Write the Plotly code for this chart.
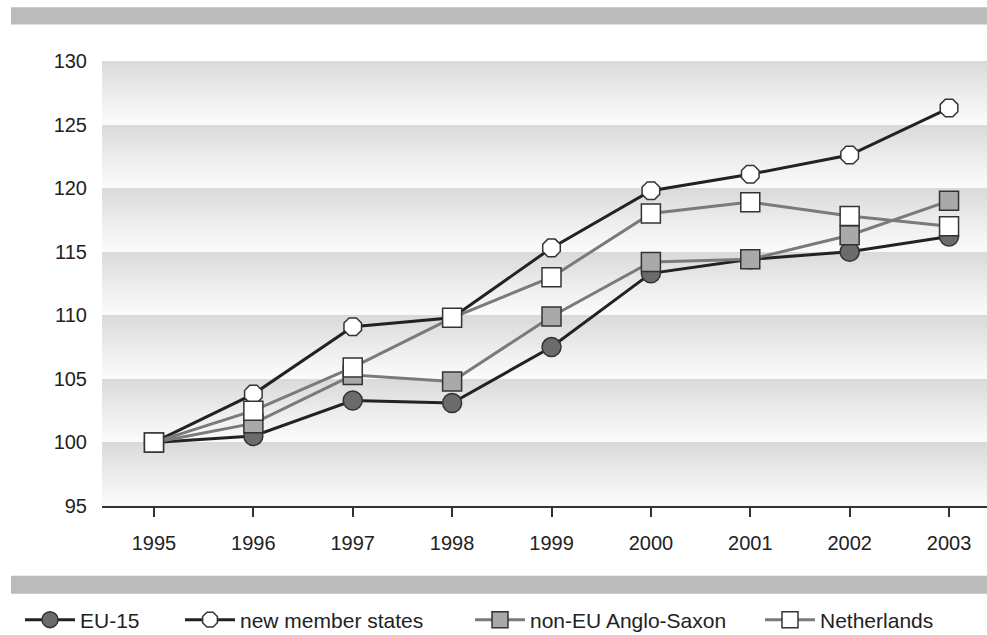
import numpy as np
import plotly.graph_objects as go

years = [1995, 1996, 1997, 1998, 1999, 2000, 2001, 2002, 2003]
eu15 = [100, 100.5, 103.3, 103.1, 107.5, 113.3, 114.4, 115.0, 116.2]
new_members = [100, 103.8, 109.1, 109.8, 115.3, 119.8, 121.1, 122.6, 126.3]
non_eu_anglo = [100, 101.5, 105.3, 104.8, 109.9, 114.2, 114.4, 116.3, 119.0]
netherlands = [100, 102.5, 105.9, 109.8, 113.0, 118.0, 118.9, 117.8, 117.0]

y_ticks = [95, 100, 105, 110, 115, 120, 125, 130]

FONT = "Liberation Sans, Arial, sans-serif"
W, H = 987, 635
L, R, T, B = 102, 0, 61, 129
PW, PH = W - L - R, H - T - B

def px_x(px):
    return (px - L) / PW

def px_y(py):
    return (H - B - py) / PH

fig = go.Figure()

# gradient background bands (darker at top of each 5-unit band)
edges = np.arange(95, 130.001, 0.25)
mids = (edges[:-1] + edges[1:]) / 2
frac = ((mids - 95) % 5) / 5
z = [[f] for f in frac]
fig.add_trace(go.Heatmap(
    x=[1994.3, 2003.6], y=edges, z=z, zmin=0, zmax=1,
    colorscale=[[0, "#fbfbfb"], [0.5, "#ececec"], [1, "#d9d9d9"]],
    showscale=False, hoverinfo="skip", showlegend=False, zsmooth=False,
))

series = [
    ("EU-15", eu15, "#222222", "circle", "#6b6b6b", "legend"),
    ("new member states", new_members, "#222222", "octagon", "#ffffff", "legend2"),
    ("non-EU Anglo-Saxon", non_eu_anglo, "#7a7a7a", "square", "#a9a9a9", "legend3"),
    ("Netherlands", netherlands, "#7a7a7a", "square", "#ffffff", "legend4"),
]
for name, vals, lc, sym, fc, lg in series:
    fig.add_trace(go.Scatter(
        x=years, y=vals, name=name, mode="lines+markers",
        line=dict(color=lc, width=3),
        marker=dict(symbol=sym, size=19, color=fc, line=dict(color="#333333", width=1.5)),
        legend=lg, showlegend=True,
    ))

legend_common = dict(
    orientation="h", yanchor="middle", y=px_y(620), xanchor="left",
    font=dict(family=FONT, size=21, color="#222222"), bgcolor="rgba(0,0,0,0)",
    itemwidth=50, visible=True,
)
text_px = [82, 242, 532, 822]
legends = {}
for i, tp in enumerate(text_px):
    key = "legend" if i == 0 else f"legend{i+1}"
    legends[key] = dict(legend_common, x=px_x(tp - 62))

fig.update_layout(
    width=W, height=H,
    showlegend=True,
    margin=dict(l=L, r=R, t=T, b=B, autoexpand=False),
    paper_bgcolor="white", plot_bgcolor="white",
    font=dict(family=FONT, size=20, color="#222222"),
    xaxis=dict(
        range=[1994.477, 2003.382], tickvals=years, ticktext=[str(y) for y in years],
        showgrid=False, zeroline=False, showline=True, linecolor="#333333", linewidth=2,
        ticks="outside", ticklen=9, tickwidth=1.5, tickcolor="#333333",
        ticklabelstandoff=9, tickfont=dict(family=FONT, size=20, color="#222222"),
    ),
    yaxis=dict(
        range=[95, 130], tickvals=y_ticks, showgrid=False, zeroline=False, showline=False,
        ticks="outside", ticklen=0, ticklabelstandoff=10,
        tickfont=dict(family=FONT, size=20, color="#222222"),
    ),
    shapes=[
        dict(type="rect", xref="paper", yref="paper", x0=px_x(11), x1=px_x(987),
             y0=px_y(24.5), y1=px_y(7.3), fillcolor="#bbbbbb", line=dict(width=0), layer="below"),
        dict(type="rect", xref="paper", yref="paper", x0=px_x(11), x1=px_x(987),
             y0=px_y(593.7), y1=px_y(575.7), fillcolor="#bbbbbb", line=dict(width=0), layer="below"),
    ],
    **legends,
)

fig.write_html("out.html")
